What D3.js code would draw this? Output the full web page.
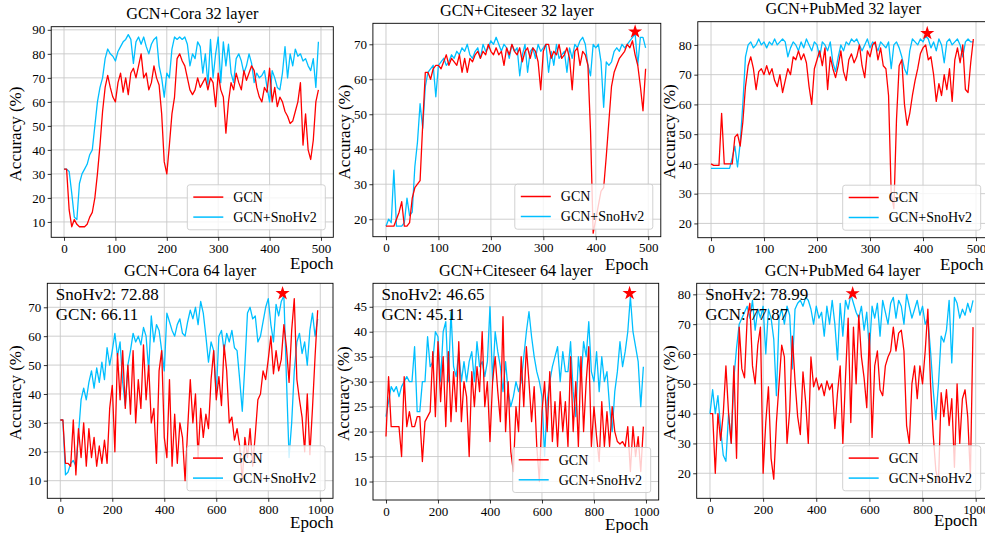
<!DOCTYPE html>
<html><head><meta charset="utf-8">
<script src="https://cdn.jsdelivr.net/npm/d3@7"></script>
<style>
body{margin:0;background:#fff}
svg{display:block}
text{font-family:"Liberation Serif","Times New Roman",serif;fill:#000}
</style>
</head><body>
<svg id="chart" width="985" height="533"></svg>
<script>
// ---------------- DATA ----------------
const seriesNames = ["GCN", "GCN+SnoHv2"];
const epochs500 = d3.range(0, 500, 5);
const epochs1000 = d3.range(0, 1000, 10);

const coraGCN32 = [32,32,15,8,11,9,8,8,8,9, 12,14,20,30,42,56,66,71,66,62, 60,68,72,64,70,63,72,74,70,75, 80,70,72,65,68,75,70,67,55,35,
  30,42,55,62,78,80,77,75,70,65, 63,65,70,66,68,70,65,70,68,58, 72,65,62,47,60,68,65,72,68,65, 73,69,72,75,73,66,62,60,66,64,
  74,60,66,58,62,60,56,54,51,52, 56,60,68,42,55,40,36,44,60,65];
const coraSno32 = [32,32,31,22,12,11,26,30,32,34, 38,40,50,60,66,70,78,82,80,79, 77,81,83,85,86,88,86,76,85,87, 84,87,83,80,84,86,87,75,70,62,
  72,70,82,87,86,87,86,87,84,75, 80,78,85,83,72,80,67,86,70,80, 87,68,85,75,84,72,68,78,80,77, 72,75,80,76,68,72,70,71,73,66,
  60,73,70,66,65,72,83,70,80,75, 82,79,80,77,78,75,73,78,66,85];

const citeGCN32 = [18,18,18,18,20,22,25,18,18,19, 26,29,30,31,47,62,62,60,63,64, 64,63,65,67,64,66,65,64,67,62, 66,62,66,65,67,68,66,68,67,70,
  68,67,69,67,68,64,69,67,70,68, 67,69,65,68,69,66,69,68,65,57, 68,70,70,66,68,67,70,66,67,69, 66,57,68,69,64,68,67,64,45,16,
  20,24,28,29,38,48,58,62,64,66, 67,68,70,69,71,67,64,58,51,63];
const citeSno32 = [18,20,19,34,18,18,18,19,26,21, 22,35,42,53,46,58,62,63,64,55, 64,65,66,64,65,67,66,68,67,69, 68,70,67,66,68,69,66,70,68,69,
  71,70,72,70,68,70,69,66,70,68, 69,61,67,70,62,68,69,66,70,68, 69,70,62,68,64,70,66,67,68,62, 69,66,70,69,71,72,70,64,61,70,
  69,70,65,52,65,64,65,68,69,68, 70,69,70,71,72,73,64,72,72,69];

const pubGCN32 = [40,39.5,39.5,39.5,57,40,40,40,40,49, 50,46,54,66,73,76,72,65,71,72, 70,73,70,72,68,66,70,64,68,72, 70,76,75,78,75,77,74,66,60,72,
  75,78,73,79,65,76,72,69,73,78, 71,68,75,77,74,76,80,73,69,78, 76,80,81,75,79,73,72,63,30,25, 55,73,75,60,53,57,63,68,72,77,
  79,80,75,76,70,61,67,63,70,65, 72,61,75,79,74,80,65,64,74,82];
const pubSno32 = [38.5,38.5,38.5,38.5,38.5,38.5,38.5,38.5,42,46, 39,47,60,76,80,81,79,80,82,80, 81,79,81,80,82,80,81,82,81,76, 79,81,80,78,81,79,82,80,78,81,
  80,76,81,80,78,81,74,71,76,80, 78,81,80,82,81,82,80,78,80,82, 79,81,80,78,81,80,79,81,72,80, 81,79,76,72,70,78,82,81,80,82,
  81,83,82,79,81,78,82,80,74,81, 82,80,81,82,80,76,81,82,81,81];

const coraGCN64 = [31,31,16,16,15,31,12,28,18,30, 15,28,18,25,15,22,16,24,16,35, 43,20,54,38,55,35,50,33,55,30, 45,35,57,38,50,30,35,16,48,55,
  25,18,45,15,33,16,30,25,10,28, 45,30,40,18,35,25,33,28,45,55, 38,46,36,57,48,30,32,24,28,22, 10,25,18,28,15,26,38,40,48,45,
  52,60,47,55,48,52,64,56,44,62, 73,45,38,32,20,40,19,35,53,69];
const coraSno64 = [31,31,12,13,16,17,15,26,38,42, 38,44,48,42,49,44,51,45,56,50, 55,61,53,58,44,36,50,55,61,58, 60,57,63,60,48,67,58,64,62,55,
  48,68,65,62,60,64,66,61,60,65, 69,66,70,64,72,68,60,51,58,55, 40,60,62,55,61,58,62,56,55,45, 34,50,68,70,66,67,58,60,65,70,
  73,64,58,71,67,72,74,45,18,30, 48,58,61,54,58,50,62,68,60,66];

const citeGCN64 = [19,31,21,21,21,21,15,31,21,24, 21,21,23,23,14,22,23,24,36,23, 38,26,35,21,36,22,32,24,38,22, 30,27,15,32,25,33,28,40,25,30,
  18,30,35,28,22,43,20,30,16,12, 25,20,35,25,37,30,22,29,17,10, 24,30,20,32,18,26,17,28,20,26, 17,35,20,30,17,35,20,30,37,17,
  25,19,14,26,17,24,17,25,20,18, 17.5,18,17,21,12,21,15,19,12,21];
const citeSno64 = [23,26,29,28,29,27,29,30,31,30, 30,37,24,24,30,30,39,33,34,40, 39,30,40,42,30,44,33,31,36,30, 34,30,34,36,30,38,33,34,31,34,
  45,30,40,36,33,28,34,28,25,27, 30,28,30,35,40,44,39,35,32,30, 27,15,26,30,33,35,37,30,36,32, 32,38,28,23,35,30,38,35,42,32,
  30,36,28,35,30,32,25,20,28,32, 38,33,36,40,47,40,37,34,25,33];

const pubGCN64 = [40,40,20,40,31,40,56,40,30,56, 25,69,55,52,72,77,56,50,63,69, 20,37,49,25,18,37,50,63,59,30, 41,66,51,39,33,54,44,30,59,49,
  52,48,50,46,51,48,50,35,47,56, 30,52,72,37,69,50,73,59,52,42, 67,32,56,61,48,46,56,59,61,69, 61,67,68,61,36,30,50,56,45,56,
  50,61,75,50,33,21,17,47,39,48, 36,45,22,50,30,45,48,39,19,69];
const pubSno64 = [40,48,40,46,35,26,24,40,30,52, 62,70,72,74,76,72,78,68,75,72, 76,60,75,72,65,46,72,75,70,76, 73,55,75,77,78,76,79,78,75,70,
  76,72,74,66,76,70,78,70,58,77, 66,78,75,80,77,74,72,76,68,74, 61,76,72,77,66,78,74,70,77,79, 72,78,76,70,80,76,72,75,78,73,
  76,70,72,61,48,38,50,66,64,68, 78,57,79,77,72,75,73,77,74,78];

const panelTitles = ["GCN+Cora 32 layer", "GCN+Citeseer 32 layer", "GCN+PubMed 32 layer",
                     "GCN+Cora 64 layer", "GCN+Citeseer 64 layer", "GCN+PubMed 64 layer"];
const xTicks500 = [0, 100, 200, 300, 400, 500];
const xTicks1000 = [0, 200, 400, 600, 800, 1000];
const yTicksCora32 = [10, 20, 30, 40, 50, 60, 70, 80, 90];
const yTicksCite32 = [20, 30, 40, 50, 60, 70];
const yTicksPub32 = [20, 30, 40, 50, 60, 70, 80];
const yTicksCora64 = [10, 20, 30, 40, 50, 60, 70];
const yTicksCite64 = [10, 15, 20, 25, 30, 35, 40, 45];
const yTicksPub64 = [20, 30, 40, 50, 60, 70, 80];
// best-epoch stars [epoch, accuracy]
const starCite32 = [475, 73.6], starPub32 = [408, 83.9], starCora64 = [855, 74.8], starCite64 = [937, 47.7], starPub64 = [537, 80.3];
const noteCora64 = ["SnoHv2: 72.88", "GCN: 66.11"];
const noteCite64 = ["SnoHv2: 46.65", "GCN: 45.11"];
const notePub64 = ["SnoHv2: 78.99", "GCN: 77.87"];

// ---------------- LAYOUT ----------------
const colors = {gcn: "#ff0000", sno: "#00bfff"};
const panels = [
  {title: panelTitles[0], x: epochs500, gcn: coraGCN32, sno: coraSno32, xt: xTicks500, yt: yTicksCora32, star: null, note: null,
   box: [51.2, 333.3, 26.7, 237.3], xd: [-24.95, 523.95], yd: [3.6, 91.3], ylx: 21, epoch: [290, 269]},
  {title: panelTitles[1], x: epochs500, gcn: citeGCN32, sno: citeSno32, xt: xTicks500, yt: yTicksCite32, star: starCite32, note: null,
   box: [372.9, 660.8, 23.3, 236.7], xd: [-24.95, 523.95], yd: [15.0, 76.0], ylx: 350, epoch: [605, 270]},
  {title: panelTitles[2], x: epochs500, gcn: pubGCN32, sno: pubSno32, xt: xTicks500, yt: yTicksPub32, star: starPub32, note: null,
   box: [697.8, 988.7, 21.7, 237.7], xd: [-24.95, 523.95], yd: [15.2, 87.8], ylx: 675, epoch: [940, 270]},
  {title: panelTitles[3], x: epochs1000, gcn: coraGCN64, sno: coraSno64, xt: xTicks1000, yt: yTicksCora64, star: starCora64, note: noteCora64,
   box: [47.3, 333.0, 283.3, 498.3], xd: [-49.95, 1048.95], yd: [3.9, 78.3], ylx: 21, epoch: [290, 528]},
  {title: panelTitles[4], x: epochs1000, gcn: citeGCN64, sno: citeSno64, xt: xTicks1000, yt: yTicksCite64, star: starCite64, note: noteCite64,
   box: [373.0, 658.7, 283.3, 500.0], xd: [-49.95, 1048.95], yd: [6.3, 49.7], ylx: 349, epoch: [605, 530]},
  {title: panelTitles[5], x: epochs1000, gcn: pubGCN64, sno: pubSno64, xt: xTicks1000, yt: yTicksPub64, star: starPub64, note: notePub64,
   box: [696.7, 988.7, 283.3, 498.3], xd: [-49.95, 1048.95], yd: [11.6, 83.7], ylx: 675, epoch: [934, 526]}
];

const svg = d3.select("#chart");
const defs = svg.append("defs");

panels.forEach((p, i) => {
  const [L, R, T, B] = p.box;
  const xs = d3.scaleLinear().domain(p.xd).range([L, R]);
  const ys = d3.scaleLinear().domain(p.yd).range([B, T]);
  const g = svg.append("g");

  defs.append("clipPath").attr("id", "clip" + i)
    .append("rect").attr("x", L).attr("y", T).attr("width", R - L).attr("height", B - T);

  // grid
  g.append("g").selectAll("line").data(p.xt).join("line")
    .attr("x1", d => xs(d)).attr("x2", d => xs(d)).attr("y1", T).attr("y2", B)
    .attr("stroke", "#c8c8c8").attr("stroke-width", 0.9);
  g.append("g").selectAll("line").data(p.yt).join("line")
    .attr("x1", L).attr("x2", R).attr("y1", d => ys(d)).attr("y2", d => ys(d))
    .attr("stroke", "#c8c8c8").attr("stroke-width", 0.9);

  // lines
  const line = d3.line().x((d, j) => xs(p.x[j])).y(d => ys(d));
  const lg = g.append("g").attr("clip-path", `url(#clip${i})`);
  lg.append("path").datum(p.sno).attr("d", line).attr("fill", "none")
    .attr("stroke", colors.sno).attr("stroke-width", 1.3).attr("stroke-linejoin", "round");
  lg.append("path").datum(p.gcn).attr("d", line).attr("fill", "none")
    .attr("stroke", colors.gcn).attr("stroke-width", 1.3).attr("stroke-linejoin", "round");

  // star
  if (p.star) {
    g.append("path").attr("d", d3.symbol(d3.symbolStar).size(62)())
      .attr("transform", `translate(${xs(p.star[0])},${ys(p.star[1])})`)
      .attr("fill", "#ff0000");
  }

  // axes
  const xAxis = d3.axisBottom(xs).tickValues(p.xt).tickSize(3.5).tickPadding(3).tickFormat(d3.format("d"));
  const yAxis = d3.axisLeft(ys).tickValues(p.yt).tickSize(3.5).tickPadding(2.5).tickFormat(d3.format("d"));
  const gx = g.append("g").attr("transform", `translate(0,${B})`).call(xAxis);
  const gy = g.append("g").attr("transform", `translate(${L},0)`).call(yAxis);
  [gx, gy].forEach(a => {
    a.select(".domain").remove();
    a.selectAll("text").style("font-family", '"Liberation Serif",serif').style("font-size", "13px").attr("fill", "#000");
    a.selectAll("line").attr("stroke", "#000").attr("stroke-width", 0.8);
  });

  // frame
  g.append("rect").attr("x", L).attr("y", T).attr("width", R - L).attr("height", B - T)
    .attr("fill", "none").attr("stroke", "#000").attr("stroke-width", 0.9);

  // title
  g.append("text").attr("x", (L + R) / 2).attr("y", T - 7.5)
    .attr("text-anchor", "middle").style("font-size", "16.3px").text(p.title);

  // y label
  g.append("text").attr("transform", `translate(${p.ylx},${(T + B) / 2 + 2}) rotate(-90)`)
    .attr("text-anchor", "middle").style("font-size", "17px").text("Accuracy (%)");

  // x label
  g.append("text").attr("x", p.epoch[0]).attr("y", p.epoch[1]).style("font-size", "17px").text("Epoch");

  // annotations
  if (p.note) {
    p.note.forEach((t, k) => {
      g.append("text").attr("x", L + 8.5).attr("y", T + 17 + k * 20).style("font-size", "17px").text(t);
    });
  }

  // legend
  const lw = 138, lh = 45;
  const lx = R - 8 - lw, ly = B - 7.5 - lh;
  const leg = g.append("g").attr("transform", `translate(${lx},${ly})`);
  leg.append("rect").attr("width", lw).attr("height", lh).attr("rx", 2.5)
    .attr("fill", "#fff").attr("fill-opacity", 0.8).attr("stroke", "#cccccc").attr("stroke-width", 0.9);
  [colors.gcn, colors.sno].forEach((c, k) => {
    const yy = 12.3 + k * 20;
    leg.append("line").attr("x1", 6).attr("x2", 36).attr("y1", yy).attr("y2", yy)
      .attr("stroke", c).attr("stroke-width", 1.5);
    leg.append("text").attr("x", 46).attr("y", yy + 5).style("font-size", "14px").text(seriesNames[k]);
  });
});
</script>
</body></html>
